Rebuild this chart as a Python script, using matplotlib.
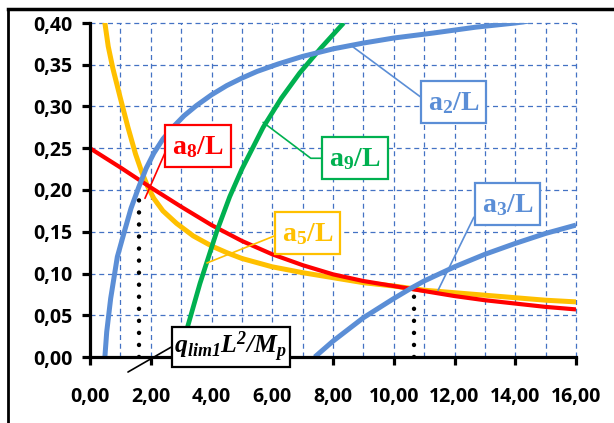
import matplotlib
matplotlib.use("Agg")
import matplotlib.pyplot as plt
from matplotlib.lines import Line2D
from matplotlib.ticker import MultipleLocator, FuncFormatter

plt.rcParams['mathtext.fontset'] = 'custom'
plt.rcParams['mathtext.rm'] = 'Liberation Serif:bold'
plt.rcParams['mathtext.bf'] = 'Liberation Serif:bold'
plt.rcParams['mathtext.it'] = 'Liberation Serif:italic:bold'
plt.rcParams['mathtext.bfit'] = 'Liberation Serif:italic:bold'

# curves (x = q L^2 / Mp)
a2_x = [0.49, 0.55, 0.68, 0.90, 1.13, 1.35, 1.60, 1.85, 2.10, 2.40, 2.75, 3.10, 3.50, 4.00, 4.50, 5.00, 5.50, 6.20, 7.00, 8.00, 9.00, 10.0, 11.3, 12.7, 14.0, 16.0]
a2_y = [0.000, 0.030, 0.070, 0.120, 0.150, 0.178, 0.203, 0.226, 0.244, 0.261, 0.276, 0.289, 0.301, 0.314, 0.325, 0.334, 0.342, 0.351, 0.360, 0.369, 0.376, 0.382, 0.388, 0.395, 0.400, 0.410]

a3_x = [7.40, 8.00, 9.00, 10.0, 10.6, 11.0, 12.0, 13.0, 14.0, 15.0, 16.0]
a3_y = [0.000, 0.019, 0.047, 0.070, 0.083, 0.091, 0.108, 0.123, 0.136, 0.148, 0.158]

a5_x = [0.47, 0.49, 0.60, 0.75, 1.00, 1.25, 1.50, 1.70, 1.90, 2.10, 2.40, 2.85, 3.40, 4.00, 4.50, 5.00, 5.50, 6.00, 7.00, 8.00, 9.00, 10.0, 11.0, 12.0, 13.0, 14.0, 15.0, 16.0]
a5_y = [0.420, 0.400, 0.372, 0.346, 0.310, 0.275, 0.243, 0.222, 0.204, 0.190, 0.175, 0.160, 0.145, 0.133, 0.125, 0.118, 0.113, 0.108, 0.101, 0.095, 0.089, 0.085, 0.080, 0.077, 0.074, 0.071, 0.068, 0.066]

a8_x = [0.0, 1.0, 2.0, 3.0, 4.0, 5.0, 6.0, 7.0, 8.0, 9.0, 10.0, 11.0, 12.0, 13.0, 14.0, 15.0, 16.0]
a8_y = [0.250, 0.227, 0.203, 0.180, 0.158, 0.139, 0.123, 0.110, 0.099, 0.091, 0.085, 0.079, 0.073, 0.068, 0.064, 0.060, 0.057]

a9_x = [2.95, 3.18, 3.62, 4.17, 4.60, 5.00, 5.70, 6.30, 6.90, 7.60, 8.35]
a9_y = [0.000, 0.032, 0.088, 0.150, 0.192, 0.225, 0.275, 0.310, 0.340, 0.370, 0.400]

drop_x = [1.61, 10.67]
drop_y = [0.198, 0.082]

xticks = [0, 2, 4, 6, 8, 10, 12, 14, 16]

blue = '#5B8ED6'
red = '#FF0000'
gold = '#FFC000'
green = '#00B050'

fig = plt.figure(figsize=(6.14, 4.23), dpi=100)
ax = fig.add_axes([90 / 614, 1 - 357 / 423, 486 / 614, 334 / 423])

ax.set_xlim(0, 16)
ax.set_ylim(0, 0.40)
ax.xaxis.set_minor_locator(MultipleLocator(1))
ax.yaxis.set_major_locator(MultipleLocator(0.05))
ax.set_xticks(xticks)
ax.grid(True, which='both', axis='x', color='#4472C4', lw=0.9, ls=(0, (4, 3)))
ax.grid(True, which='major', axis='y', color='#4472C4', lw=0.9, ls=(0, (4, 3)))
ax.set_axisbelow(True)
for g in ax.get_xgridlines() + ax.get_ygridlines():
    g.set_clip_on(False)

for s in ['top', 'right']:
    ax.spines[s].set_visible(False)
for s in ['left', 'bottom']:
    ax.spines[s].set_linewidth(2.3)
ax.tick_params(which='major', direction='out', length=5.5, width=2.3, labelsize=14, pad=7)
ax.tick_params(which='minor', length=0)
ax.tick_params(axis='x', pad=16)
fmt = FuncFormatter(lambda v, p: ('%.2f' % v).replace('.', ','))
ax.xaxis.set_major_formatter(fmt)
ax.yaxis.set_major_formatter(fmt)
for lab in ax.get_xticklabels() + ax.get_yticklabels():
    lab.set_fontfamily('Open Sans')
    lab.set_fontweight('bold')

ax.plot(a5_x, a5_y, color=gold, lw=3.6, solid_capstyle='butt')
ax.plot(a8_x, a8_y, color=red, lw=3.0, solid_capstyle='butt')
ax.plot(a9_x, a9_y, color=green, lw=3.4, solid_capstyle='butt')
ax.plot(a2_x, a2_y, color=blue, lw=3.6, solid_capstyle='butt')
ax.plot(a3_x, a3_y, color=blue, lw=3.6, solid_capstyle='butt')

for dx, dy in zip(drop_x, drop_y):
    ax.plot([dx, dx], [0, dy], color='black', lw=3.2, ls=(0, (0.01, 2.7)),
            dash_capstyle='round')


def label(txt, xy, xyt, col, rel, cs='arc3', size=20, pad=0.25):
    ax.annotate(txt, xy=xy, xytext=xyt, ha='center', va='center', color=col,
                fontsize=size, annotation_clip=False,
                bbox=dict(boxstyle='square,pad=%g' % pad, fc='white', ec=col, lw=1.6),
                arrowprops=dict(arrowstyle='-', color=col, lw=1.2, relpos=rel,
                                shrinkA=0, shrinkB=0, connectionstyle=cs))


label(r'$\mathbf{a_8/L}$', (1.81, 0.190), (3.56, 0.253), red, (0, 0.85))
label(r'$\mathbf{a_2/L}$', (8.56, 0.374), (11.97, 0.305), blue, (0, 0.5))
label(r'$\mathbf{a_9/L}$', (5.70, 0.281), (8.72, 0.238), green, (0, 0.5),
      cs='angle,angleA=0,angleB=-37,rad=0')
label(r'$\mathbf{a_5/L}$', (3.85, 0.1126), (7.16, 0.1485), gold, (0, 0.5))
label(r'$\mathbf{a_3/L}$', (11.46, 0.080), (13.74, 0.183), blue, (0, 0.6))
label(r'$\mathbfit{q_{lim1}L^{2}/M_{p}}$', (1.25, -0.018), (4.64, 0.012), 'black',
      (0, 0.55), size=18.5, pad=0.1)

# outer frame (only top and left edges show)
fig.add_artist(Line2D([8 / 614, 8 / 614], [0, 1 - 9 / 423], color='black', lw=2,
                      transform=fig.transFigure))
fig.add_artist(Line2D([8 / 614, 1], [1 - 9 / 423, 1 - 9 / 423], color='black', lw=2.5,
                      transform=fig.transFigure))

fig.savefig('out.png', dpi=100)
